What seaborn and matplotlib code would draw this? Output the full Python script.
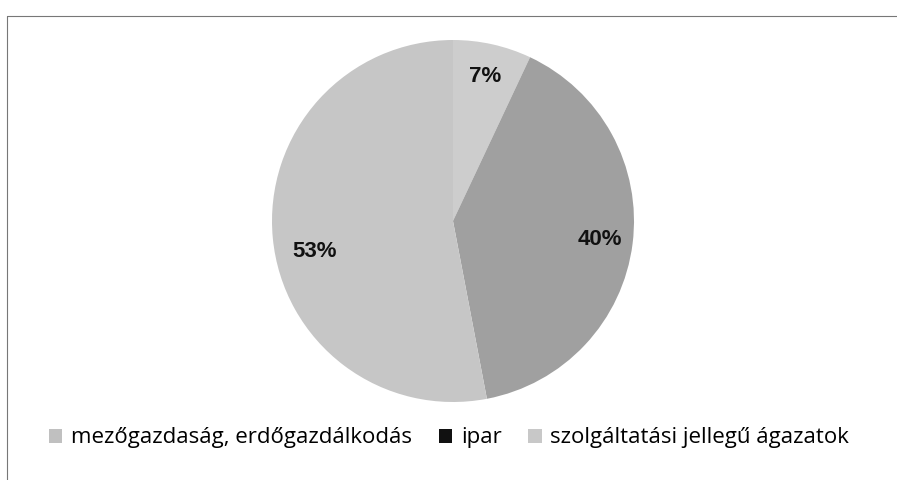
import matplotlib
matplotlib.use("Agg")
import matplotlib.pyplot as plt
import seaborn as sns
from matplotlib.patches import Patch
from matplotlib.lines import Line2D

# sector shares (%)
categories = ["mezőgazdaság, erdőgazdálkodás", "ipar", "szolgáltatási jellegű ágazatok"]
shares = [7, 40, 53]
slice_colors = ["#cdcdcd", "#a0a0a0", "#c6c6c6"]
legend_colors = ["#c0c0c0", "#111111", "#c8c8c8"]

sns.set_theme(style="white")
plt.rcParams["font.family"] = ["Open Sans", "DejaVu Sans"]

W, H = 897, 480
fig = plt.figure(figsize=(W / 100, H / 100), dpi=100)
fig.patch.set_facecolor("white")

# pie: center ~ (453, 221) px, radius ~ 181 px
cx, cy, r = 453, 221, 181
ax = fig.add_axes([(cx - r) / W, (H - cy - r) / H, 2 * r / W, 2 * r / H])
wedges, texts, autotexts = ax.pie(
    shares,
    colors=slice_colors,
    startangle=90,
    counterclock=False,
    autopct=lambda p: f"{round(p)}%",
    pctdistance=0.82,
    wedgeprops=dict(linewidth=0),
    textprops=dict(fontsize=16, fontweight="bold", color="#111111",
                   family=["Liberation Sans", "DejaVu Sans"]),
)
# the 53% label sits a little lower and further in on the original
x53, y53 = autotexts[2].get_position()
autotexts[2].set_position((x53 + 0.05, y53 - 0.09))
ax.set_xlim(-1, 1)
ax.set_ylim(-1, 1)
ax.axis("off")

# legend below the pie
handles = [Patch(facecolor=c, edgecolor="none") for c in legend_colors]
fig.legend(
    handles, categories,
    loc="center", bbox_to_anchor=(449 / W, 1 - 438 / H),
    ncol=3, frameon=False, fontsize=16, labelcolor="#000000",
    handlelength=0.6, handleheight=0.6, handletextpad=0.4, columnspacing=1.2,
)

# scanned frame: top and left border lines
fig.add_artist(Line2D([7 / W, 1], [1 - 16 / H, 1 - 16 / H], color="#777777", lw=0.8))
fig.add_artist(Line2D([7 / W, 7 / W], [0, 1 - 16 / H], color="#777777", lw=0.8))

fig.savefig("out.png", dpi=100)
